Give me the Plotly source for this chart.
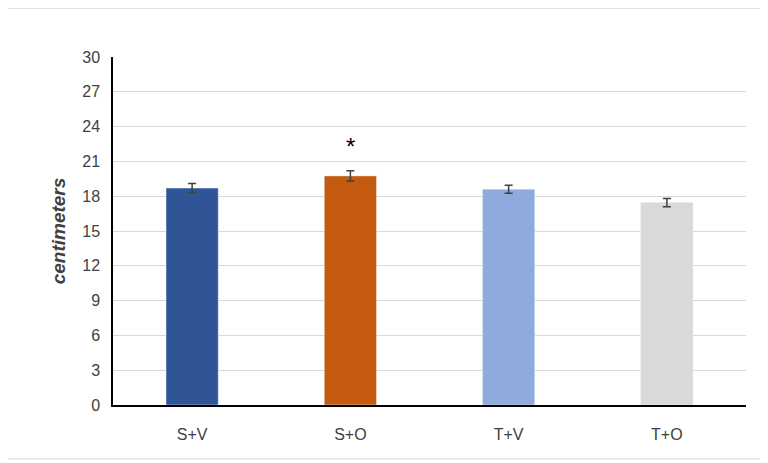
import plotly.graph_objects as go

categories = ["S+V", "S+O", "T+V", "T+O"]
values = [18.7, 19.75, 18.6, 17.45]
errors = [0.4, 0.45, 0.35, 0.35]
colors = ["#2F5597", "#C55A11", "#8FAADC", "#D9D9D9"]
tick_vals = list(range(0, 31, 3))

fig = go.Figure(go.Bar(
    x=categories, y=values, marker_color=colors, width=0.33,
    error_y=dict(type="data", array=errors, color="#404040", thickness=1.5, width=4),
))
fig.add_annotation(x="S+O", y=values[1] + errors[1], text="*", showarrow=False,
                   yshift=24, font=dict(size=24, color="black"))
fig.update_layout(
    width=768, height=463, paper_bgcolor="white", plot_bgcolor="white",
    margin=dict(l=105, r=30, t=49, b=66, autoexpand=False), showlegend=False,
    font=dict(family="Liberation Sans", size=16, color="#404040"),
    shapes=[dict(type="rect", xref="paper", yref="paper", x0=-0.177, x1=1.025, y0=-0.155, y1=1.14,
                 line=dict(color="#D9D9D9", width=1))],
)
fig.update_xaxes(showline=True, linecolor="black", linewidth=1.5, ticks="outside",
                 ticklen=14, tickcolor="rgba(0,0,0,0)", tickfont=dict(size=16))
fig.update_yaxes(range=[0, 30], tickvals=tick_vals, showgrid=True, gridcolor="#D9D9D9",
                 showline=True, linecolor="black", linewidth=1.5, zeroline=False,
                 ticks="outside", ticklen=8, tickcolor="rgba(0,0,0,0)",
                 title=dict(text="<i><b>centimeters</b></i>", font=dict(size=19, color="#404040"), standoff=12))
fig.write_html("out.html")
